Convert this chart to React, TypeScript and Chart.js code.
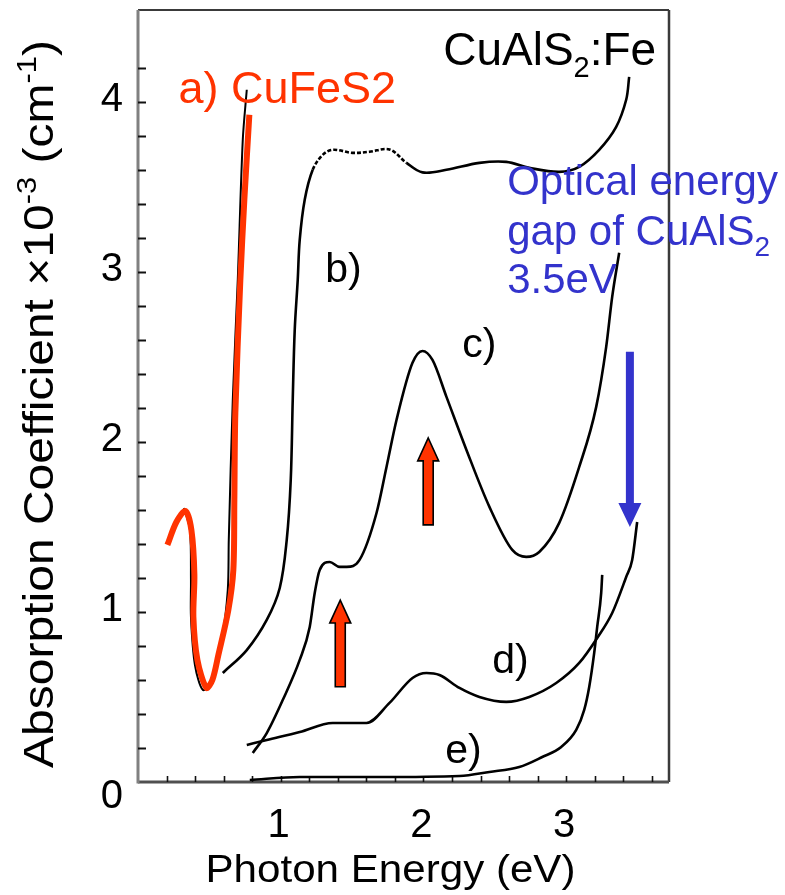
import React, { useEffect, useRef } from "react";
import { Chart, registerables } from "chart.js";

Chart.register(...registerables);

const FONT = '"Liberation Sans", Arial, Helvetica, sans-serif';
const RED = "#ff3300";
const BLUE = "#3333cc";

// Photon energy (eV) and absorption coefficient (x10^3 cm^-1) for each spectrum
const cufes2Energy = [0.206, 0.269, 0.332, 0.374, 0.395, 0.388, 0.416, 0.479, 0.521, 0.563, 0.633, 0.668, 0.675, 0.682, 0.717, 0.745, 0.78];
const cufes2Alpha = [1.394, 1.529, 1.594, 1.482, 1.218, 0.971, 0.718, 0.553, 0.6, 0.747, 1.012, 1.247, 1.659, 2.171, 2.953, 3.424, 3.924];

const traceAEnergy = [0.322, 0.364, 0.371, 0.371, 0.399, 0.455, 0.517, 0.587, 0.629, 0.636, 0.664, 0.699, 0.734, 0.762];
const traceAAlpha = [1.612, 1.482, 1.188, 0.971, 0.688, 0.541, 0.6, 0.835, 1.129, 1.424, 2.247, 2.953, 3.776, 4.071];

const bEnergy = [0.594, 0.762, 0.902, 0.993, 1.042, 1.07, 1.084, 1.098, 1.119, 1.133, 1.168, 1.224, 1.294, 1.364, 1.503, 1.622, 1.762, 1.881, 1.993, 2.161, 2.392, 2.58, 2.741, 2.951, 3.091, 3.231, 3.35, 3.42, 3.441];
const bAlpha = [0.641, 0.776, 0.953, 1.141, 1.424, 1.776, 2.247, 2.659, 2.953, 3.188, 3.424, 3.6, 3.688, 3.718, 3.7, 3.706, 3.72, 3.641, 3.585, 3.6, 3.641, 3.647, 3.612, 3.588, 3.618, 3.718, 3.853, 4.012, 4.147];

const cEnergy = [0.804, 0.902, 1.014, 1.133, 1.203, 1.238, 1.273, 1.343, 1.413, 1.462, 1.552, 1.671, 1.741, 1.811, 1.923, 1.993, 2.063, 2.161, 2.301, 2.462, 2.622, 2.72, 2.811, 2.951, 3.091, 3.21, 3.28, 3.322, 3.371];
const cAlpha = [0.171, 0.288, 0.482, 0.718, 0.912, 1.112, 1.247, 1.294, 1.265, 1.265, 1.306, 1.582, 1.853, 2.129, 2.465, 2.535, 2.482, 2.265, 1.953, 1.618, 1.365, 1.324, 1.353, 1.524, 1.853, 2.206, 2.559, 2.853, 3.112];

const dEnergy = [0.762, 0.902, 1.133, 1.364, 1.601, 1.762, 1.923, 2.021, 2.112, 2.252, 2.392, 2.58, 2.741, 2.93, 3.091, 3.217, 3.322, 3.42, 3.462, 3.497];
const dAlpha = [0.218, 0.247, 0.294, 0.347, 0.347, 0.465, 0.612, 0.641, 0.629, 0.553, 0.5, 0.471, 0.5, 0.582, 0.7, 0.847, 0.994, 1.206, 1.306, 1.529];

const eEnergy = [0.783, 1.133, 1.692, 2.252, 2.462, 2.671, 2.832, 2.965, 3.07, 3.126, 3.161, 3.196, 3.217, 3.245, 3.252];
const eAlpha = [0.012, 0.029, 0.029, 0.035, 0.059, 0.088, 0.147, 0.206, 0.306, 0.424, 0.559, 0.759, 0.912, 1.112, 1.218];

// Axis ticks
const xTickLabels = [1, 2, 3];
const yTickLabels = [0, 1, 2, 3, 4];
const X_MAX = 3.72;
const Y_MAX = 4.54;
const MINOR_STEP = 0.2;

const zip = (xs: number[], ys: number[]) => xs.map((x, i) => ({ x, y: ys[i] }));

type Seg = { t: string; size: number; dy?: number };

function segWidth(ctx: CanvasRenderingContext2D, segs: Seg[]) {
  let w = 0;
  for (const s of segs) {
    ctx.font = `${s.size}px ${FONT}`;
    w += ctx.measureText(s.t).width;
  }
  return w;
}

function drawRich(ctx: CanvasRenderingContext2D, segs: Seg[], x: number, y: number, color: string, fit?: number) {
  ctx.save();
  ctx.translate(x, y);
  if (fit) ctx.scale(fit / segWidth(ctx, segs), 1);
  ctx.fillStyle = color;
  ctx.textAlign = "left";
  ctx.textBaseline = "alphabetic";
  let cx = 0;
  for (const s of segs) {
    ctx.font = `${s.size}px ${FONT}`;
    ctx.fillText(s.t, cx, s.dy || 0);
    cx += ctx.measureText(s.t).width;
  }
  ctx.restore();
}

function drawArrow(
  ctx: CanvasRenderingContext2D,
  x: number,
  yTail: number,
  yTip: number,
  shaftW: number,
  headW: number,
  headL: number,
  fill: string,
  stroke?: string
) {
  const dir = yTip < yTail ? -1 : 1;
  const yBase = yTip - dir * headL;
  ctx.save();
  ctx.beginPath();
  ctx.moveTo(x - shaftW / 2, yTail);
  ctx.lineTo(x - shaftW / 2, yBase);
  ctx.lineTo(x - headW / 2, yBase);
  ctx.lineTo(x, yTip);
  ctx.lineTo(x + headW / 2, yBase);
  ctx.lineTo(x + shaftW / 2, yBase);
  ctx.lineTo(x + shaftW / 2, yTail);
  ctx.closePath();
  ctx.fillStyle = fill;
  ctx.fill();
  if (stroke) {
    ctx.lineWidth = 1.6;
    ctx.strokeStyle = stroke;
    ctx.lineJoin = "miter";
    ctx.stroke();
  }
  ctx.restore();
}

// Curve labels and notes, anchored in data coordinates (left edge, baseline)
const notes: { segs: Seg[]; x: number; y: number; color: string }[] = [
  { segs: [{ t: "a) CuFeS2", size: 45 }], x: 0.283, y: 3.994, color: RED },
  { segs: [{ t: "CuAlS", size: 46 }, { t: "2", size: 29, dy: 12 }, { t: ":Fe", size: 46 }], x: 2.138, y: 4.218, color: "#000" },
  { segs: [{ t: "b)", size: 41 }], x: 1.312, y: 2.941, color: "#000" },
  { segs: [{ t: "c)", size: 41 }], x: 2.271, y: 2.5, color: "#000" },
  { segs: [{ t: "d)", size: 41 }], x: 2.481, y: 0.641, color: "#000" },
  { segs: [{ t: "e)", size: 41 }], x: 2.152, y: 0.112, color: "#000" },
  { segs: [{ t: "Optical energy", size: 42 }], x: 2.586, y: 3.453, color: BLUE },
  { segs: [{ t: "gap of CuAlS", size: 42 }, { t: "2", size: 28, dy: 11 }], x: 2.586, y: 3.159, color: BLUE },
  { segs: [{ t: "3.5eV", size: 42 }], x: 2.586, y: 2.876, color: BLUE },
];

// Arrows: energy, tail and tip in absorption units
const arrows = [
  { x: 1.417, tail: 0.56, tip: 1.07, shaft: 10, head: 21, headL: 23, fill: RED, stroke: "#000" },
  { x: 2.033, tail: 1.512, tip: 2.024, shaft: 10, head: 21, headL: 23, fill: RED, stroke: "#000" },
  { x: 3.446, tail: 2.53, tip: 1.5, shaft: 8, head: 23, headL: 24, fill: BLUE },
];

const decorPlugin = {
  id: "decor",
  beforeDatasetsDraw(chart: any) {
    const { ctx, chartArea: a, scales } = chart;
    const xs = scales.x;
    const ys = scales.y;
    ctx.save();
    // frame
    ctx.lineCap = "butt";
    ctx.strokeStyle = "#3a3a3a";
    ctx.lineWidth = 2;
    ctx.beginPath();
    ctx.moveTo(a.left, a.top);
    ctx.lineTo(a.right, a.top);
    ctx.stroke();
    ctx.lineWidth = 2.5;
    ctx.beginPath();
    ctx.moveTo(a.right, a.top);
    ctx.lineTo(a.right, a.bottom);
    ctx.stroke();
    ctx.strokeStyle = "#505050";
    ctx.lineWidth = 3;
    ctx.beginPath();
    ctx.moveTo(a.left, a.bottom);
    ctx.lineTo(a.right, a.bottom);
    ctx.stroke();
    ctx.strokeStyle = "#808080";
    ctx.lineWidth = 3;
    ctx.beginPath();
    ctx.moveTo(a.left, a.top);
    ctx.lineTo(a.left, a.bottom + 1.5);
    ctx.stroke();

    // inward minor ticks
    ctx.strokeStyle = "#111";
    ctx.lineWidth = 2;
    for (let k = 1; k * MINOR_STEP < Y_MAX - 0.25; k++) {
      const py = Math.round(ys.getPixelForValue(k * MINOR_STEP)) + 0.5;
      ctx.beginPath();
      ctx.moveTo(a.left, py);
      ctx.lineTo(a.left + 8, py);
      ctx.stroke();
    }
    ctx.lineWidth = 1.6;
    for (let k = 1; k * MINOR_STEP < X_MAX - 0.05; k++) {
      const px = Math.round(xs.getPixelForValue(k * MINOR_STEP)) + 0.5;
      ctx.beginPath();
      ctx.moveTo(px, a.bottom);
      ctx.lineTo(px, a.bottom - 6);
      ctx.stroke();
    }
    ctx.restore();
  },
  afterDatasetsDraw(chart: any) {
    const { ctx, chartArea: a, scales } = chart;
    const xs = scales.x;
    const ys = scales.y;
    ctx.save();

    // tick labels
    ctx.fillStyle = "#000";
    ctx.font = `40px ${FONT}`;
    ctx.textAlign = "right";
    ctx.textBaseline = "middle";
    for (const v of yTickLabels) {
      const py = ys.getPixelForValue(v) + (v === 0 ? 15 : -2);
      ctx.fillText(String(v), a.left - 15, py);
    }
    ctx.textAlign = "center";
    for (const v of xTickLabels) {
      ctx.fillText(String(v), xs.getPixelForValue(v) - 2, a.bottom + 44);
    }

    // axis titles
    const xTitle: Seg[] = [{ t: "Photon Energy (eV)", size: 38 }];
    const xw = 370;
    drawRich(ctx, xTitle, (a.left + a.right) / 2 - xw / 2 - 13, a.bottom + 100, "#000", xw);

    const yTitle: Seg[] = [
      { t: "Absorption Coefficient \u00d710", size: 42 },
      { t: "-3", size: 27, dy: -17 },
      { t: " (cm", size: 42 },
      { t: "-1", size: 27, dy: -17 },
      { t: ")", size: 42 },
    ];
    ctx.save();
    ctx.translate(a.left - 85, a.bottom - 14);
    ctx.rotate(-Math.PI / 2);
    drawRich(ctx, yTitle, 0, 0, "#000", 728);
    ctx.restore();

    // arrows
    for (const ar of arrows) {
      drawArrow(
        ctx,
        xs.getPixelForValue(ar.x),
        ys.getPixelForValue(ar.tail),
        ys.getPixelForValue(ar.tip),
        ar.shaft,
        ar.head,
        ar.headL,
        ar.fill,
        ar.stroke
      );
    }

    // notes
    for (const n of notes) {
      drawRich(ctx, n.segs, xs.getPixelForValue(n.x), ys.getPixelForValue(n.y), n.color);
    }
    ctx.restore();
  },
};

export default function App() {
  const ref = useRef<HTMLCanvasElement | null>(null);

  useEffect(() => {
    if (!ref.current) return;
    const black = (data: { x: number; y: number }[], extra: any = {}) => ({
      data,
      showLine: true,
      borderColor: "#000",
      borderWidth: 2.6,
      pointRadius: 0,
      cubicInterpolationMode: "monotone",
      order: 2,
      ...extra,
    });
    const chart = new Chart(ref.current, {
      type: "scatter",
      data: {
        datasets: [
          {
            label: "a) CuFeS2",
            data: zip(cufes2Energy, cufes2Alpha),
            showLine: true,
            borderColor: RED,
            borderWidth: 6,
            pointRadius: 0,
            tension: 0.3,
            borderCapStyle: "butt",
            order: 0,
          },
          black(zip(traceAEnergy, traceAAlpha), { label: "a trace", tension: 0.3, cubicInterpolationMode: "default", borderWidth: 2, order: 1 }),
          black(zip(bEnergy, bAlpha), {
            label: "b)",
            cubicInterpolationMode: "default",
            tension: 0.35,
            segment: {
              borderDash: (c: any) => (c.p0.parsed.x >= 1.22 && c.p1.parsed.x <= 1.95 ? [4, 2] : undefined),
            },
          }),
          black(zip(cEnergy, cAlpha), { label: "c)" }),
          black(zip(dEnergy, dAlpha), { label: "d)" }),
          black(zip(eEnergy, eAlpha), { label: "e)" }),
        ],
      },
      options: {
        animation: false,
        responsive: false,
        devicePixelRatio: 1,
        layout: { padding: { left: 0, top: 10, right: 116, bottom: 0 } },
        plugins: { legend: { display: false }, tooltip: { enabled: false } },
        scales: {
          x: {
            type: "linear",
            min: 0,
            max: X_MAX,
            ticks: { display: false },
            grid: { display: false },
            border: { display: false },
            afterFit: (s: any) => {
              s.height = 113;
            },
          },
          y: {
            type: "linear",
            min: 0,
            max: Y_MAX,
            ticks: { display: false },
            grid: { display: false },
            border: { display: false },
            afterFit: (s: any) => {
              s.width = 138;
            },
          },
        },
      },
      plugins: [decorPlugin],
    } as any);
    return () => chart.destroy();
  }, []);

  return (
    <div style={{ position: "absolute", left: 0, top: 0, width: 785, height: 895, background: "#fff" }}>
      <canvas ref={ref} width={785} height={895} style={{ display: "block", width: 785, height: 895 }} />
    </div>
  );
}
